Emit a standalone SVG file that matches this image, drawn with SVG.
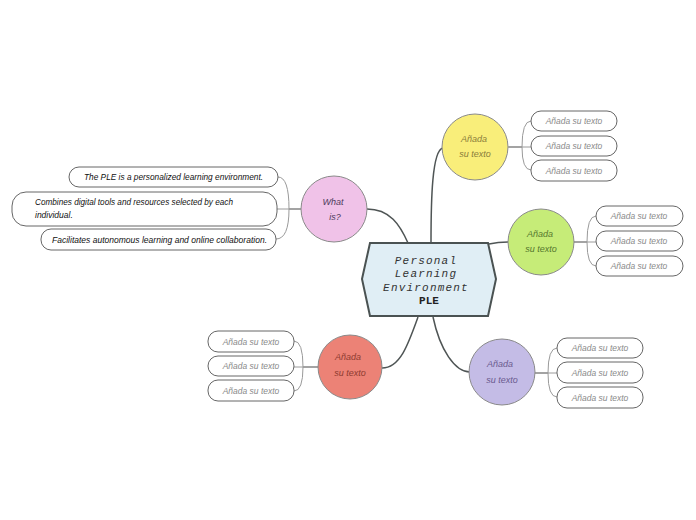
<svg xmlns="http://www.w3.org/2000/svg" width="696" height="520" viewBox="0 0 696 520">
<style>
.bg{fill:#ffffff}
.main{fill:#e0eef5;stroke:#4a5252;stroke-width:2}
.mt{font-family:"Liberation Mono","DejaVu Sans Mono",monospace;font-size:11px;font-style:italic;letter-spacing:1.2px;fill:#333;text-anchor:middle}
.mb{font-family:"Liberation Mono","DejaVu Sans Mono",monospace;font-size:11px;font-weight:bold;fill:#222;text-anchor:middle}
.circ{stroke:#8a8a8a;stroke-width:1}
.ct{font-family:"Liberation Sans",Arial,sans-serif;font-size:9px;font-style:italic;text-anchor:middle}
.pill{fill:#ffffff;stroke:#555;stroke-width:0.9}
.lt{font-family:"Liberation Sans",Arial,sans-serif;font-size:8.5px;font-style:italic;fill:#8a8a8a;text-anchor:middle}
.wt{font-family:"Liberation Sans",Arial,sans-serif;font-size:8.5px;font-style:italic;fill:#111}
.c1{fill:none;stroke:#4f5555;stroke-width:1.5}
.c2{fill:none;stroke:#666;stroke-width:1.2}
.c3{fill:none;stroke:#9a9a9a;stroke-width:1}
</style>
<rect class="bg" x="0" y="0" width="696" height="520"/>
<g id="connectors">
<path class="c1" d="M367,209 C390,209 400,225 408,243"/>
<path class="c1" d="M431,243 C431,200 432,150 443,148"/>
<path class="c1" d="M489,244 C498,242 502,242 508,242"/>
<path class="c1" d="M418,317 C408,345 400,368 382,368"/>
<path class="c1" d="M433,317 C440,350 455,372 470,372"/>
<path class="c2" d="M508,147 H522"/>
<path class="c3" d="M522,147 Q522,121 531,121 M522,147 H531 M522,147 Q522,170 531,170"/>
<path class="c2" d="M574,242 H587"/>
<path class="c3" d="M587,242 Q587,216 596,216 M587,242 H596 M587,242 Q587,266 596,266"/>
<path class="c2" d="M535,373 H548"/>
<path class="c3" d="M548,373 Q548,348 557,348 M548,373 H557 M548,373 Q548,397 557,397"/>
<path class="c2" d="M318,367 H303"/>
<path class="c3" d="M303,367 Q303,341 294,341 M303,367 H294 M303,367 Q303,391 294,391"/>
<path class="c2" d="M301,209 H289"/>
<path class="c3" d="M289,209 Q289,177 278,177 M289,209 H277 M289,209 Q289,239 276,239"/>
</g>
<g id="central">
<polygon class="main" points="362,279 370,243 488,243 496,279 488,316 370,316"/>
<text class="mt" x="426" y="264">Personal</text>
<text class="mt" x="426" y="277">Learning</text>
<text class="mt" x="426" y="291">Environment</text>
<text class="mb" x="429" y="304">PLE</text>
</g>
<g id="what-is">
<circle class="circ" cx="334" cy="209" r="33" fill="#f0c2e8"/>
<text class="ct" x="333" y="205" fill="#4e3a5c">What</text>
<text class="ct" x="335" y="220" fill="#4e3a5c">is?</text>
</g>
<g id="what-1">
<rect class="pill" x="69" y="167" width="209" height="20" rx="10"/>
<text class="wt" x="84" y="180" textLength="179" lengthAdjust="spacingAndGlyphs">The PLE is a personalized learning environment.</text>
</g>
<g id="what-2">
<rect class="pill" x="12" y="192" width="265" height="34" rx="14"/>
<text class="wt" x="35" y="205" textLength="198" lengthAdjust="spacingAndGlyphs">Combines digital tools and resources selected by each</text>
<text class="wt" x="35" y="218">individual.</text>
</g>
<g id="what-3">
<rect class="pill" x="41" y="229" width="235" height="21" rx="10"/>
<text class="wt" x="52" y="243" textLength="215" lengthAdjust="spacingAndGlyphs">Facilitates autonomous learning and online collaboration.</text>
</g>
<g id="yellow">
<circle class="circ" cx="475" cy="147" r="33" fill="#f9ee7a"/>
<text class="ct" x="474" y="142" fill="#8a7d3a">Añada</text>
<text class="ct" x="475" y="157" fill="#8a7d3a">su texto</text>
</g>
<g id="y1"><rect class="pill" x="531" y="111" width="86" height="20" rx="10"/><text class="lt" x="574" y="124">Añada su texto</text></g>
<g id="y2"><rect class="pill" x="531" y="136" width="86" height="20" rx="10"/><text class="lt" x="574" y="149">Añada su texto</text></g>
<g id="y3"><rect class="pill" x="531" y="160" width="86" height="21" rx="10"/><text class="lt" x="574" y="174">Añada su texto</text></g>
<g id="green">
<circle class="circ" cx="541" cy="242" r="33" fill="#c6ec78"/>
<text class="ct" x="540" y="237" fill="#55772e">Añada</text>
<text class="ct" x="541" y="252" fill="#55772e">su texto</text>
</g>
<g id="g1"><rect class="pill" x="596" y="206" width="87" height="20" rx="10"/><text class="lt" x="639" y="219">Añada su texto</text></g>
<g id="g2"><rect class="pill" x="596" y="231" width="87" height="20" rx="10"/><text class="lt" x="639" y="244">Añada su texto</text></g>
<g id="g3"><rect class="pill" x="596" y="256" width="87" height="20" rx="10"/><text class="lt" x="639" y="269">Añada su texto</text></g>
<g id="purple">
<circle class="circ" cx="502" cy="372" r="33" fill="#c4bce6"/>
<text class="ct" x="500" y="367" fill="#6a5a8e">Añada</text>
<text class="ct" x="502" y="383" fill="#6a5a8e">su texto</text>
</g>
<g id="p1"><rect class="pill" x="557" y="338" width="86" height="20" rx="10"/><text class="lt" x="600" y="351">Añada su texto</text></g>
<g id="p2"><rect class="pill" x="557" y="362" width="86" height="21" rx="10"/><text class="lt" x="600" y="376">Añada su texto</text></g>
<g id="p3"><rect class="pill" x="557" y="387" width="86" height="21" rx="10"/><text class="lt" x="600" y="401">Añada su texto</text></g>
<g id="red">
<circle class="circ" cx="350" cy="367" r="32" fill="#ec8276"/>
<text class="ct" x="348" y="360" fill="#8e3a30">Añada</text>
<text class="ct" x="350" y="376" fill="#8e3a30">su texto</text>
</g>
<g id="r1"><rect class="pill" x="208" y="331" width="86" height="21" rx="10"/><text class="lt" x="251" y="345">Añada su texto</text></g>
<g id="r2"><rect class="pill" x="208" y="356" width="86" height="20" rx="10"/><text class="lt" x="251" y="369">Añada su texto</text></g>
<g id="r3"><rect class="pill" x="208" y="380" width="86" height="21" rx="10"/><text class="lt" x="251" y="394">Añada su texto</text></g>
</svg>
